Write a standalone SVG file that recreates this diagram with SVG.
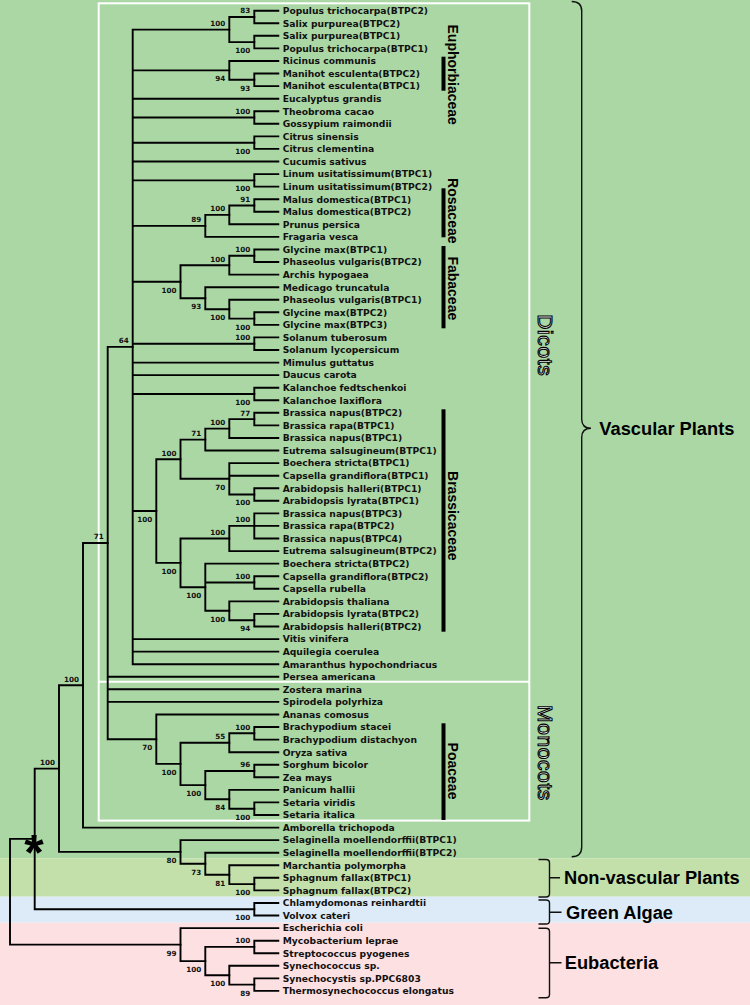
<svg xmlns="http://www.w3.org/2000/svg" width="750" height="1005" viewBox="0 0 750 1005">
<style>
.leaf{font-family:"DejaVu Sans",sans-serif;font-weight:bold;font-size:9.2px;fill:#111}
.bs{font-family:"DejaVu Sans",sans-serif;font-weight:bold;font-size:7.2px;fill:#111;text-anchor:end}
.br{fill:none;stroke:#000;stroke-width:1.9;stroke-linecap:square}
.brace{fill:none;stroke:#111;stroke-width:1.4}
.grp{font-family:"Liberation Sans",Arial,sans-serif;font-weight:bold;font-size:18.3px;fill:#000}
.fam{font-family:"Liberation Sans",Arial,sans-serif;font-weight:bold;font-size:14px;fill:#000;text-anchor:middle}
.clade{font-family:"Liberation Sans",Arial,sans-serif;font-size:21px;fill:#ffffff;stroke:#000;stroke-width:1.1;text-anchor:middle;letter-spacing:0.6px}
.bar{fill:#000}
</style>
<g id="background">
<rect x="0" y="0" width="750" height="858.3" fill="#abd7a5"/>
<rect x="0" y="858.3" width="750" height="38.4" fill="#c3e0ab"/>
<rect x="0" y="896.7" width="750" height="26" fill="#dcebf7"/>
<rect x="0" y="922.7" width="750" height="82.3" fill="#fde0e2"/>
</g>
<g id="clade-boxes" fill="none" stroke="#fff" stroke-width="2">
<rect x="98.7" y="3.3" width="430.6" height="817.3"/>
<line x1="98.7" y1="681.7" x2="529.3" y2="681.7"/>
</g>
<g id="connectors" class="br">
<path d="M278.3 10.7H254.3V23.3H278.3"/>
<path d="M278.3 35.8H254.3V48.4H278.3"/>
<path d="M254.3 17H229.3V42.1H254.3"/>
<path d="M278.3 73.5H254.3V86.1H278.3"/>
<path d="M278.3 61H229.3V79.8H254.3"/>
<path d="M278.3 111.2H254.3V123.8H278.3"/>
<path d="M278.3 136.4H254.3V148.9H278.3"/>
<path d="M278.3 174.1H254.3V186.6H278.3"/>
<path d="M278.3 199.2H254.3V211.8H278.3"/>
<path d="M254.3 205.5H229.3V224.3H278.3"/>
<path d="M229.3 214.9H205.3V236.9H278.3"/>
<path d="M278.3 249.5H254.3V262H278.3"/>
<path d="M254.3 255.8H229.3V274.6H278.3"/>
<path d="M278.3 312.3H254.3V324.9H278.3"/>
<path d="M278.3 299.7H229.3V318.6H254.3"/>
<path d="M278.3 287.2H205.3V309.2H229.3"/>
<path d="M229.3 265.2H180.5V298.2H205.3"/>
<path d="M278.3 337.4H254.3V350H278.3"/>
<path d="M278.3 387.7H254.3V400.3H278.3"/>
<path d="M278.3 412.8H254.3V425.4H278.3"/>
<path d="M254.3 419.1H229.3V438H278.3"/>
<path d="M229.3 428.6H205.3V450.5H278.3"/>
<path d="M278.3 488.2H254.3V500.8H278.3"/>
<path d="M278.3 463.1H229.3V494.5H254.3M229.3 475.7H278.3"/>
<path d="M205.3 439.6H180.5V478.8H229.3"/>
<path d="M278.3 513.4H254.3V538.5H278.3M254.3 525.9H278.3"/>
<path d="M254.3 525.9H229.3V551.1H278.3"/>
<path d="M278.3 576.2H254.3V588.8H278.3"/>
<path d="M278.3 613.9H254.3V626.5H278.3"/>
<path d="M278.3 601.4H229.3V620.2H254.3"/>
<path d="M278.3 563.6H205.3V610.8H229.3M205.3 582.5H254.3"/>
<path d="M229.3 538.5H180.5V587.2H205.3"/>
<path d="M180.5 459.2H156.3V562.9H180.5"/>
<path d="M229.3 29.6H132.7V664.2H278.3M132.7 70.4H229.3M132.7 98.7H278.3M132.7 117.5H254.3M132.7 142.7H254.3M132.7 161.5H278.3M132.7 180.4H254.3M132.7 225.9H205.3M132.7 281.7H180.5M132.7 343.7H254.3M132.7 362.6H278.3M132.7 375.1H278.3M132.7 394H254.3M132.7 511H156.3M132.7 639.1H278.3M132.7 651.6H278.3"/>
<path d="M278.3 727H254.3V739.6H278.3"/>
<path d="M254.3 733.3H229.3V752.2H278.3"/>
<path d="M278.3 764.7H254.3V777.3H278.3"/>
<path d="M278.3 802.4H254.3V815H278.3"/>
<path d="M278.3 789.9H229.3V808.7H254.3"/>
<path d="M254.3 771H205.3V799.3H229.3"/>
<path d="M229.3 742.7H180.5V785.1H205.3"/>
<path d="M278.3 714.5H156.3V763.9H180.5"/>
<path d="M132.7 346.9H107.7V739.2H156.3M107.7 676.8H278.3M107.7 689.3H278.3M107.7 701.9H278.3"/>
<path d="M107.7 543H83V827.6H278.3"/>
<path d="M278.3 877.8H254.3V890.4H278.3"/>
<path d="M278.3 865.3H229.3V884.1H254.3"/>
<path d="M278.3 852.7H205.3V874.7H229.3"/>
<path d="M278.3 840.1H180.5V863.7H205.3"/>
<path d="M83 685.3H59V851.9H180.5"/>
<path d="M278.3 903H254.3V915.5H278.3"/>
<path d="M59 768.6H34.7V909.2H254.3"/>
<path d="M278.3 940.7H254.3V953.2H278.3"/>
<path d="M278.3 978.4H254.3V990.9H278.3"/>
<path d="M278.3 965.8H229.3V984.6H254.3"/>
<path d="M254.3 946.9H205.3V975.2H229.3"/>
<path d="M278.3 928.1H180.5V961.1H205.3"/>
<path d="M34.7 838.9H10V944.6H180.5"/>
</g>
<g id="root-mark"><text x="34" y="870" font-family="Liberation Sans, Arial, sans-serif" font-weight="bold" font-size="50" text-anchor="middle" fill="#000">*</text></g>
<g id="bootstrap" class="bs">
<text x="250.3" y="13.4">83</text>
<text x="225.3" y="26">100</text>
<text x="250.3" y="53">100</text>
<text x="225.3" y="81.3">94</text>
<text x="250.3" y="90.7">93</text>
<text x="250.3" y="113.9">100</text>
<text x="250.3" y="153.6">100</text>
<text x="250.3" y="191.3">100</text>
<text x="250.3" y="201.9">91</text>
<text x="225.3" y="211.3">100</text>
<text x="201.3" y="222.3">89</text>
<text x="250.3" y="252.2">100</text>
<text x="225.3" y="261.6">100</text>
<text x="176.5" y="292.6">100</text>
<text x="201.3" y="309.1">93</text>
<text x="225.3" y="320.1">100</text>
<text x="250.3" y="329.5">100</text>
<text x="128.7" y="343.3">64</text>
<text x="250.3" y="340.1">100</text>
<text x="250.3" y="404.9">100</text>
<text x="250.3" y="415.5">77</text>
<text x="225.3" y="425">100</text>
<text x="201.3" y="436">71</text>
<text x="176.5" y="455.6">100</text>
<text x="225.3" y="489.7">70</text>
<text x="250.3" y="505.4">100</text>
<text x="152.3" y="521.9">100</text>
<text x="250.3" y="522.3">100</text>
<text x="225.3" y="534.9">100</text>
<text x="176.5" y="573.8">100</text>
<text x="250.3" y="578.9">100</text>
<text x="201.3" y="598.1">100</text>
<text x="225.3" y="621.7">100</text>
<text x="250.3" y="631.1">94</text>
<text x="103.7" y="539.4">71</text>
<text x="79" y="681.7">100</text>
<text x="55" y="765">100</text>
<text x="250.3" y="729.7">100</text>
<text x="225.3" y="739.1">55</text>
<text x="152.3" y="750.1">70</text>
<text x="176.5" y="774.8">100</text>
<text x="250.3" y="767.4">96</text>
<text x="201.3" y="796">100</text>
<text x="225.3" y="810.2">84</text>
<text x="250.3" y="819.6">100</text>
<text x="176.5" y="862.8">80</text>
<text x="201.3" y="874.6">73</text>
<text x="225.3" y="885.6">81</text>
<text x="250.3" y="895">100</text>
<text x="250.3" y="920.1">100</text>
<text x="176.5" y="955.5">99</text>
<text x="250.3" y="943.3">100</text>
<text x="201.3" y="972">100</text>
<text x="225.3" y="986.1">100</text>
<text x="250.3" y="995.5">89</text>
</g>
<g class="leaf">
<g id="n01"><text x="282.7" y="14">Populus trichocarpa(BTPC2)</text></g>
<g id="n02"><text x="282.7" y="26.6">Salix purpurea(BTPC2)</text></g>
<g id="n03"><text x="282.7" y="39.1">Salix purpurea(BTPC1)</text></g>
<g id="n04"><text x="282.7" y="51.7">Populus trichocarpa(BTPC1)</text></g>
<g id="n05"><text x="282.7" y="64.3">Ricinus communis</text></g>
<g id="n06"><text x="282.7" y="76.8">Manihot esculenta(BTPC2)</text></g>
<g id="n07"><text x="282.7" y="89.4">Manihot esculenta(BTPC1)</text></g>
<g id="n08"><text x="282.7" y="102">Eucalyptus grandis</text></g>
<g id="n09"><text x="282.7" y="114.5">Theobroma cacao</text></g>
<g id="n10"><text x="282.7" y="127.1">Gossypium raimondii</text></g>
<g id="n11"><text x="282.7" y="139.7">Citrus sinensis</text></g>
<g id="n12"><text x="282.7" y="152.2">Citrus clementina</text></g>
<g id="n13"><text x="282.7" y="164.8">Cucumis sativus</text></g>
<g id="n14"><text x="282.7" y="177.4">Linum usitatissimum(BTPC1)</text></g>
<g id="n15"><text x="282.7" y="189.9">Linum usitatissimum(BTPC2)</text></g>
<g id="n16"><text x="282.7" y="202.5">Malus domestica(BTPC1)</text></g>
<g id="n17"><text x="282.7" y="215.1">Malus domestica(BTPC2)</text></g>
<g id="n18"><text x="282.7" y="227.6">Prunus persica</text></g>
<g id="n19"><text x="282.7" y="240.2">Fragaria vesca</text></g>
<g id="n20"><text x="282.7" y="252.8">Glycine max(BTPC1)</text></g>
<g id="n21"><text x="282.7" y="265.3">Phaseolus vulgaris(BTPC2)</text></g>
<g id="n22"><text x="282.7" y="277.9">Archis hypogaea</text></g>
<g id="n23"><text x="282.7" y="290.5">Medicago truncatula</text></g>
<g id="n24"><text x="282.7" y="303">Phaseolus vulgaris(BTPC1)</text></g>
<g id="n25"><text x="282.7" y="315.6">Glycine max(BTPC2)</text></g>
<g id="n26"><text x="282.7" y="328.2">Glycine max(BTPC3)</text></g>
<g id="n27"><text x="282.7" y="340.7">Solanum tuberosum</text></g>
<g id="n28"><text x="282.7" y="353.3">Solanum lycopersicum</text></g>
<g id="n29"><text x="282.7" y="365.9">Mimulus guttatus</text></g>
<g id="n30"><text x="282.7" y="378.4">Daucus carota</text></g>
<g id="n31"><text x="282.7" y="391">Kalanchoe fedtschenkoi</text></g>
<g id="n32"><text x="282.7" y="403.6">Kalanchoe laxiflora</text></g>
<g id="n33"><text x="282.7" y="416.1">Brassica napus(BTPC2)</text></g>
<g id="n34"><text x="282.7" y="428.7">Brassica rapa(BTPC1)</text></g>
<g id="n35"><text x="282.7" y="441.3">Brassica napus(BTPC1)</text></g>
<g id="n36"><text x="282.7" y="453.8">Eutrema salsugineum(BTPC1)</text></g>
<g id="n37"><text x="282.7" y="466.4">Boechera stricta(BTPC1)</text></g>
<g id="n38"><text x="282.7" y="479">Capsella grandiflora(BTPC1)</text></g>
<g id="n39"><text x="282.7" y="491.5">Arabidopsis halleri(BTPC1)</text></g>
<g id="n40"><text x="282.7" y="504.1">Arabidopsis lyrata(BTPC1)</text></g>
<g id="n41"><text x="282.7" y="516.7">Brassica napus(BTPC3)</text></g>
<g id="n42"><text x="282.7" y="529.2">Brassica rapa(BTPC2)</text></g>
<g id="n43"><text x="282.7" y="541.8">Brassica napus(BTPC4)</text></g>
<g id="n44"><text x="282.7" y="554.4">Eutrema salsugineum(BTPC2)</text></g>
<g id="n45"><text x="282.7" y="566.9">Boechera stricta(BTPC2)</text></g>
<g id="n46"><text x="282.7" y="579.5">Capsella grandiflora(BTPC2)</text></g>
<g id="n47"><text x="282.7" y="592.1">Capsella rubella</text></g>
<g id="n48"><text x="282.7" y="604.7">Arabidopsis thaliana</text></g>
<g id="n49"><text x="282.7" y="617.2">Arabidopsis lyrata(BTPC2)</text></g>
<g id="n50"><text x="282.7" y="629.8">Arabidopsis halleri(BTPC2)</text></g>
<g id="n51"><text x="282.7" y="642.4">Vitis vinifera</text></g>
<g id="n52"><text x="282.7" y="654.9">Aquilegia coerulea</text></g>
<g id="n53"><text x="282.7" y="667.5">Amaranthus hypochondriacus</text></g>
<g id="n54"><text x="282.7" y="680.1">Persea americana</text></g>
<g id="n55"><text x="282.7" y="692.6">Zostera marina</text></g>
<g id="n56"><text x="282.7" y="705.2">Spirodela polyrhiza</text></g>
<g id="n57"><text x="282.7" y="717.8">Ananas comosus</text></g>
<g id="n58"><text x="282.7" y="730.3">Brachypodium stacei</text></g>
<g id="n59"><text x="282.7" y="742.9">Brachypodium distachyon</text></g>
<g id="n60"><text x="282.7" y="755.5">Oryza sativa</text></g>
<g id="n61"><text x="282.7" y="768">Sorghum bicolor</text></g>
<g id="n62"><text x="282.7" y="780.6">Zea mays</text></g>
<g id="n63"><text x="282.7" y="793.2">Panicum hallii</text></g>
<g id="n64"><text x="282.7" y="805.7">Setaria viridis</text></g>
<g id="n65"><text x="282.7" y="818.3">Setaria italica</text></g>
<g id="n66"><text x="282.7" y="830.9">Amborella trichopoda</text></g>
<g id="n67"><text x="282.7" y="843.4">Selaginella moellendorffii(BTPC1)</text></g>
<g id="n68"><text x="282.7" y="856">Selaginella moellendorffii(BTPC2)</text></g>
<g id="n69"><text x="282.7" y="868.6">Marchantia polymorpha</text></g>
<g id="n70"><text x="282.7" y="881.1">Sphagnum fallax(BTPC1)</text></g>
<g id="n71"><text x="282.7" y="893.7">Sphagnum fallax(BTPC2)</text></g>
<g id="n72"><text x="282.7" y="906.3">Chlamydomonas reinhardtii</text></g>
<g id="n73"><text x="282.7" y="918.8">Volvox cateri</text></g>
<g id="n74"><text x="282.7" y="931.4">Escherichia coli</text></g>
<g id="n75"><text x="282.7" y="944">Mycobacterium leprae</text></g>
<g id="n76"><text x="282.7" y="956.5">Streptococcus pyogenes</text></g>
<g id="n77"><text x="282.7" y="969.1">Synechococcus sp.</text></g>
<g id="n78"><text x="282.7" y="981.7">Synechocystis sp.PPC6803</text></g>
<g id="n79"><text x="282.7" y="994.2">Thermosynechococcus elongatus</text></g>
</g>
<g id="fam-euphorbiaceae"><rect class="bar" x="441.5" y="56.7" width="4" height="34"/><text class="fam" transform="translate(448.3 74.7) rotate(90)">Euphorbiaceae</text></g>
<g id="fam-rosaceae"><rect class="bar" x="441.5" y="188.3" width="4" height="49"/><text class="fam" transform="translate(448.3 210.8) rotate(90)">Rosaceae</text></g>
<g id="fam-fabaceae"><rect class="bar" x="441.5" y="246" width="4" height="82.3"/><text class="fam" transform="translate(448.3 288.3) rotate(90)">Fabaceae</text></g>
<g id="fam-brassicaceae"><rect class="bar" x="441.5" y="409.3" width="4" height="222.4"/><text class="fam" transform="translate(448.3 515.8) rotate(90)">Brassicaceae</text></g>
<g id="fam-poaceae"><rect class="bar" x="441.5" y="723.3" width="4" height="96.7"/><text class="fam" transform="translate(448.3 771) rotate(90)">Poaceae</text></g>
<g id="clade-dicots"><text class="clade" transform="translate(537.5 345.3) rotate(90)">Dicots</text></g>
<g id="clade-monocots"><text class="clade" transform="translate(537.5 753) rotate(90)">Monocots</text></g>
<g id="grp-vascular"><path class="brace" d="M571.7 1.5Q581.7 1.5 581.7 11L581.7 419Q581.7 428.3 591 428.3Q581.7 428.3 581.7 437.5L581.7 847Q581.7 856.7 571.7 856.7"/><text class="grp" x="599.3" y="434.8">Vascular Plants</text></g>
<g id="grp-nonvascular"><path class="brace" d="M538.5 859.5H546Q549.5 859.5 549.5 863V893.5Q549.5 897 546 897H538.5M549.5 877.7H560"/><text class="grp" x="564" y="884.2">Non-vascular Plants</text></g>
<g id="grp-algae"><path class="brace" d="M538.5 900H546Q549.5 900 549.5 903V921Q549.5 924 546 924H538.5M549.5 912.3H561.5"/><text class="grp" x="566" y="918.8">Green Algae</text></g>
<g id="grp-eubacteria"><path class="brace" d="M538.5 928.3H546Q549.5 928.3 549.5 931.5V994.5Q549.5 997.7 546 997.7H538.5M549.5 962.7H561.5"/><text class="grp" x="564.7" y="969.2">Eubacteria</text></g>
</svg>
